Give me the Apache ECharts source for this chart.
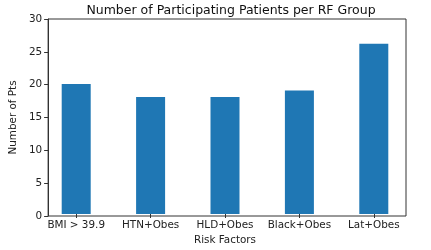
<!DOCTYPE html>
<html>
<head>
<meta charset="utf-8">
<script src="https://cdn.jsdelivr.net/npm/echarts@6/dist/echarts.min.js"></script>
<style>html,body{margin:0;padding:0;background:#fff;}#c{width:431px;height:250px;}</style>
</head>
<body>
<div id="c"></div>
<script>
const categories = ['BMI > 39.9', 'HTN+Obes', 'HLD+Obes', 'Black+Obes', 'Lat+Obes'];
const patients = [20, 18, 18, 19, 26.2];
const yTicks = [0, 5, 10, 15, 20, 25, 30];

const font = 'DejaVu Sans';
const chart = echarts.init(document.getElementById('c'), null, {renderer: 'canvas'});
chart.setOption({
  animation: false,
  backgroundColor: '#fff',
  title: {
    text: 'Number of Participating Patients per RF Group',
    left: 226, top: -1, textAlign: 'center',
    textStyle: {fontFamily: font, fontSize: 12.5, fontWeight: 'normal', color: '#111'}
  },
  grid: [
    {left: 46, width: 360, top: 19, height: 197, show: true, borderColor: '#333', borderWidth: 1, backgroundColor: 'transparent', z: 5},
    {left: 39, width: 372, top: 19, height: 197, show: false}
  ],
  xAxis: [
    {gridIndex: 0, type: 'value', min: 0, max: 1, show: false},
    {gridIndex: 1, type: 'category', data: categories,
     axisLine: {show: false},
     axisTick: {show: true, alignWithLabel: true, length: 4, lineStyle: {color: '#333'}},
     axisLabel: {fontFamily: font, fontSize: 10.4, color: '#222', margin: 6, interval: 0},
     name: 'Risk Factors', nameLocation: 'middle', nameGap: 21,
     nameTextStyle: {fontFamily: font, fontSize: 10.4, color: '#222'}}
  ],
  yAxis: [
    {gridIndex: 0, type: 'value', min: yTicks[0], max: yTicks[yTicks.length - 1], interval: 5,
     axisLine: {show: true, lineStyle: {color: '#333'}},
     axisTick: {show: true, length: 4, lineStyle: {color: '#333'}},
     splitLine: {show: false},
     axisLabel: {fontFamily: font, fontSize: 10.4, color: '#222', margin: 6},
     name: 'Number of Pts', nameLocation: 'middle', nameGap: 27,
     nameTextStyle: {fontFamily: font, fontSize: 10.4, color: '#222'}},
    {gridIndex: 1, type: 'value', min: yTicks[0], max: yTicks[yTicks.length - 1], show: false}
  ],
  series: [{
    type: 'bar', xAxisIndex: 1, yAxisIndex: 1,
    data: patients, barWidth: 29,
    itemStyle: {color: '#1f77b4'}
  }]
});
</script>
</body>
</html>
